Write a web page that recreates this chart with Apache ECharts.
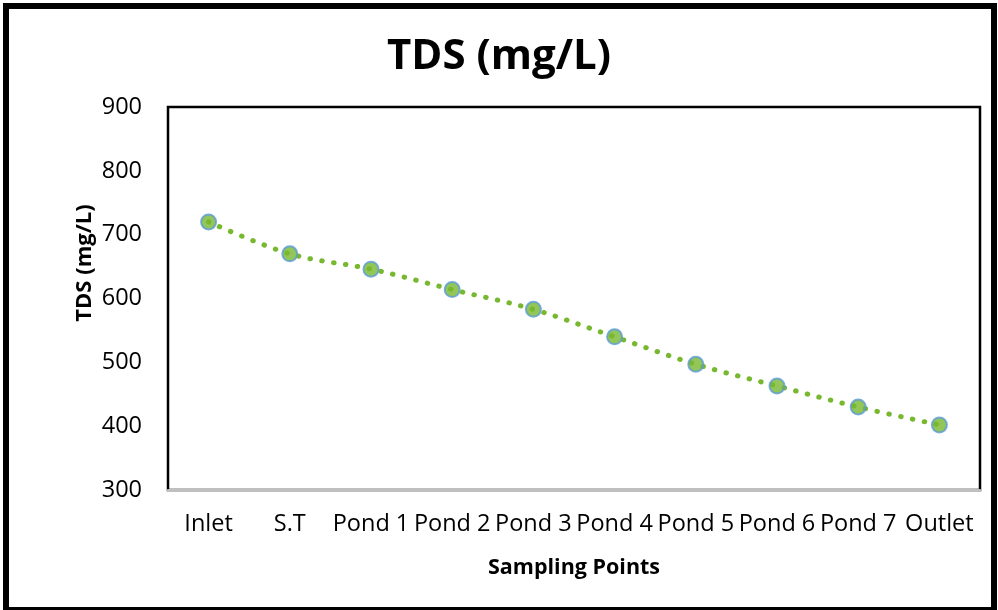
<!DOCTYPE html>
<html>
<head>
<meta charset="utf-8">
<script src="https://cdn.jsdelivr.net/npm/echarts@6/dist/echarts.min.js"></script>
<style>
  html, body { margin: 0; padding: 0; background: #fff; }
  #chart { width: 998px; height: 610px; }
</style>
</head>
<body>
<div id="chart"></div>
<script>
// Sampling locations along the treatment train
const categories = ['Inlet', 'S.T', 'Pond 1', 'Pond 2', 'Pond 3', 'Pond 4', 'Pond 5', 'Pond 6', 'Pond 7', 'Outlet'];
// Total dissolved solids at each point (mg/L)
const tdsValues = [720, 670, 646, 614, 583, 540, 497, 463, 430, 402];
// Value axis range
const yMin = 300;
const yMax = 900;
const yStep = 100;

const FONT = '"Open Sans", "Liberation Sans", sans-serif';
const GREEN = '#78b82f';

const chart = echarts.init(document.getElementById('chart'), null, { renderer: 'canvas' });

chart.setOption({
  animation: false,
  backgroundColor: '#fff',
  title: {
    text: 'TDS (mg/L)',
    left: 'center',
    top: 31,
    textStyle: { fontFamily: FONT, fontSize: 42, fontWeight: 'bold', color: '#000' }
  },
  grid: {
    left: 168, right: 18, top: 107, bottom: 120,
    show: true, borderColor: '#000', borderWidth: 2.5, backgroundColor: '#fff'
  },
  xAxis: {
    type: 'category',
    data: categories,
    boundaryGap: true,
    axisLine: { show: true, lineStyle: { color: '#bfbfbf', width: 3 } },
    axisTick: { show: false },
    axisLabel: { interval: 0, margin: 22, color: '#000', fontFamily: FONT, fontSize: 23.5 },
    name: 'Sampling Points',
    nameLocation: 'middle',
    nameGap: 67,
    nameTextStyle: { fontFamily: FONT, fontSize: 21.5, fontWeight: 'bold', color: '#000' }
  },
  yAxis: {
    type: 'value',
    min: yMin, max: yMax, interval: yStep,
    axisLine: { show: false },
    axisTick: { show: false },
    splitLine: { show: false },
    axisLabel: { margin: 26, color: '#000', fontFamily: FONT, fontSize: 23.5 }
  },
  graphic: [
    {
      type: 'rect',
      shape: { x: 6, y: 6, width: 988, height: 604 },
      style: { fill: 'none', stroke: '#000', lineWidth: 6 },
      silent: true, z: 100
    },
    {
      type: 'text',
      x: 85, y: 263,
      rotation: Math.PI / 2,
      style: {
        text: 'TDS (mg/L)', fill: '#000',
        font: 'bold 22px ' + FONT,
        align: 'center', verticalAlign: 'middle'
      }
    }
  ],
  series: [
    {
      // dotted trend through the measurements
      type: 'line',
      data: tdsValues,
      smooth: 0.35,
      symbol: 'none',
      lineStyle: { color: GREEN, width: 5, type: [0.5, 11.5], cap: 'round' },
      z: 2
    },
    {
      type: 'scatter',
      data: tdsValues,
      symbol: 'circle',
      symbolSize: 15,
      itemStyle: { color: GREEN, borderColor: '#5b9bd5', borderWidth: 2 },
      z: 3
    }
  ]
});
</script>
</body>
</html>
